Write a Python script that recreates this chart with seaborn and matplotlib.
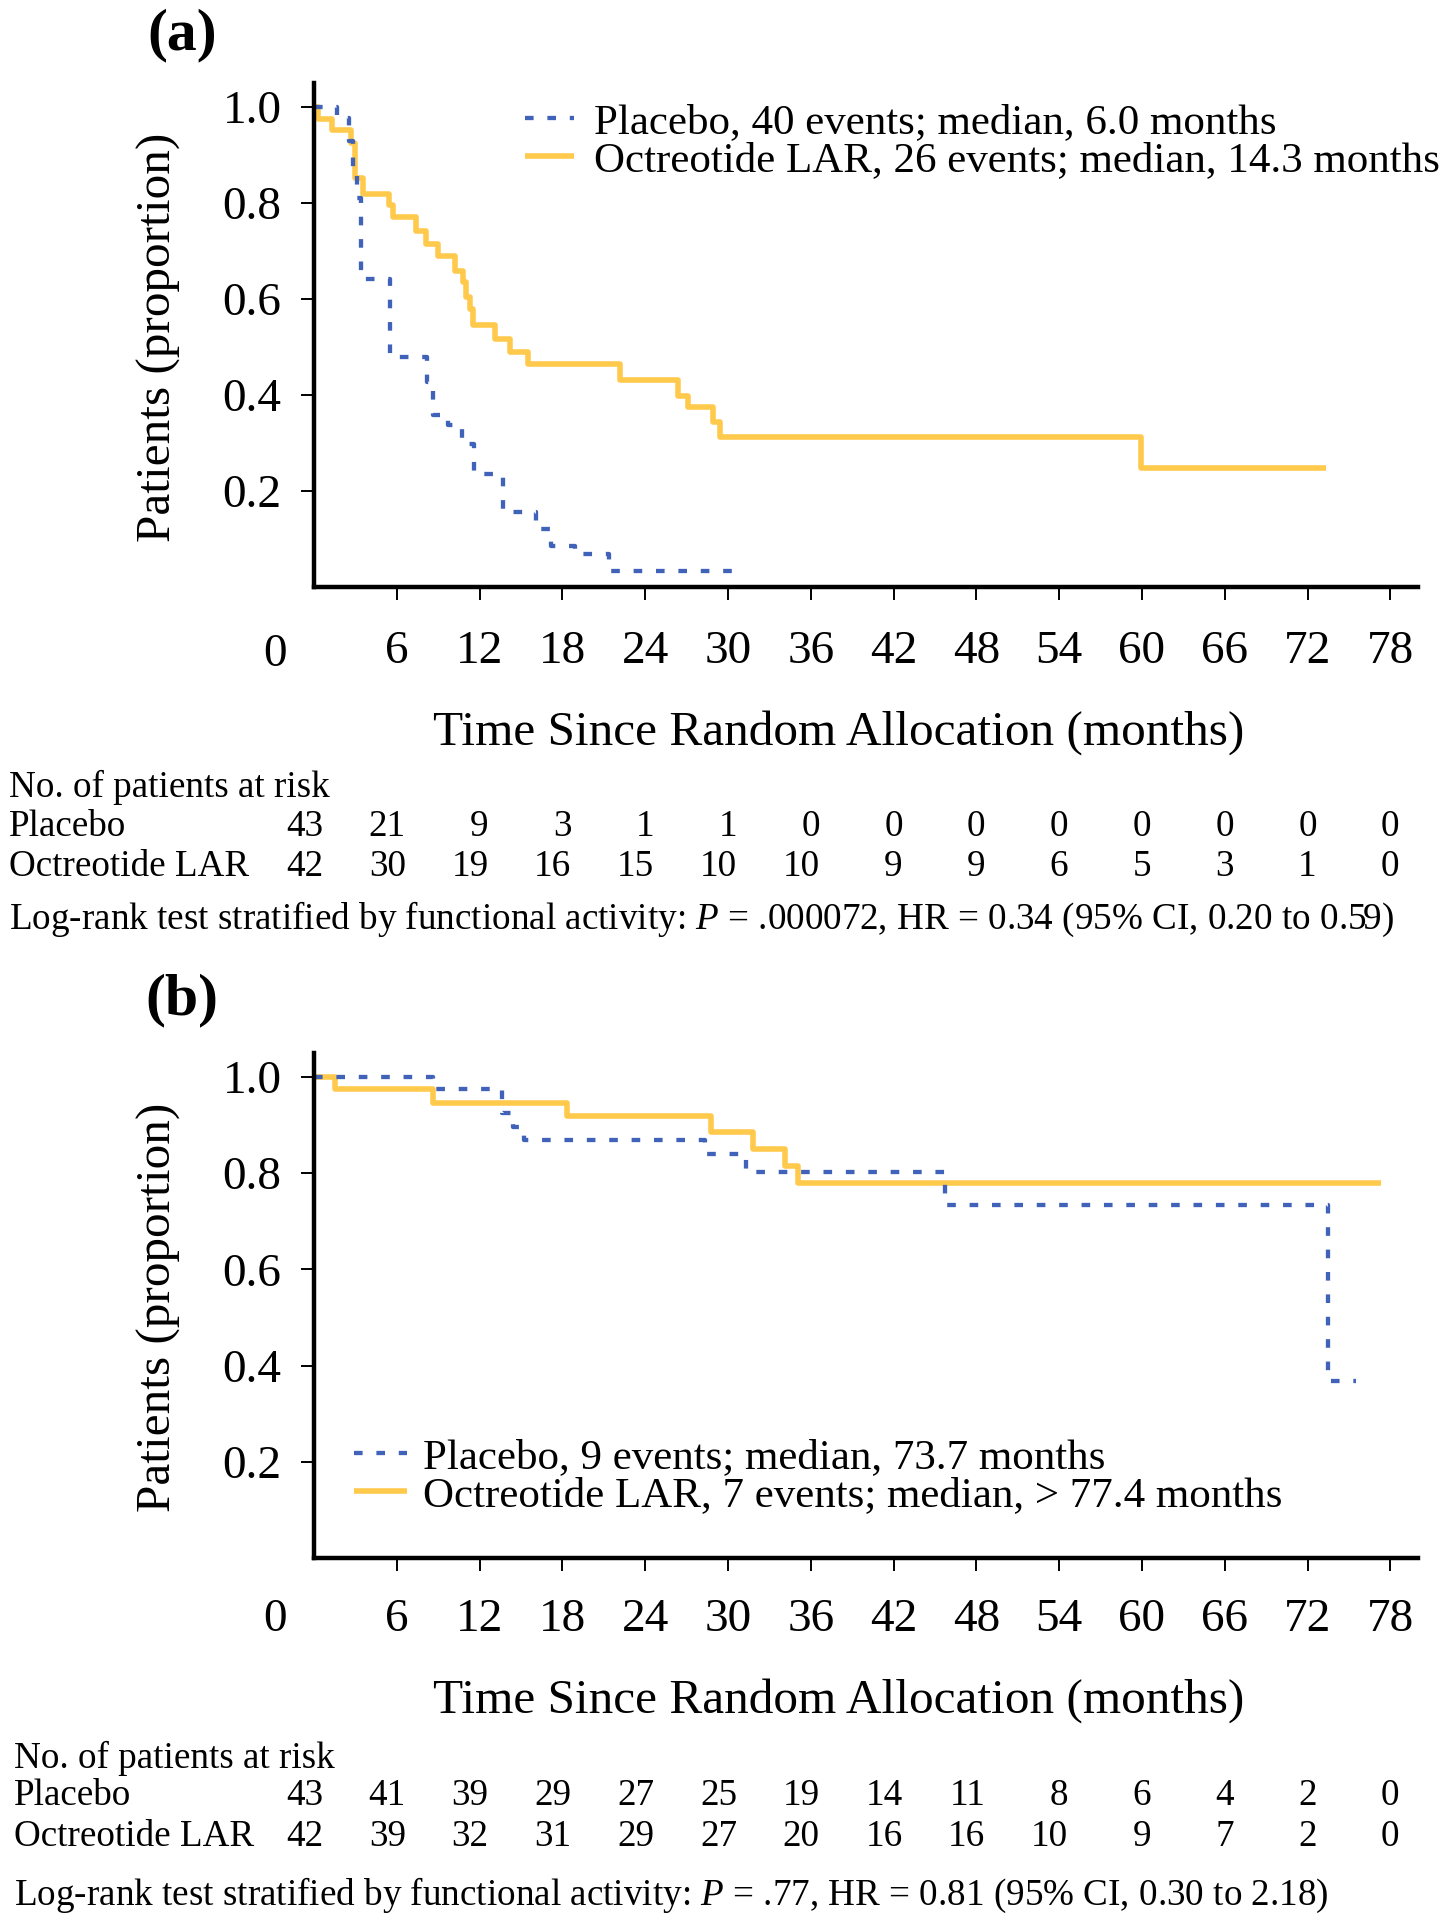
import matplotlib
matplotlib.use("Agg")
import matplotlib.pyplot as plt
import matplotlib.transforms as mtransforms
import seaborn as sns
import pandas as pd

# ---------------- data ----------------
# Panel (a) Kaplan-Meier step points (time in months, survival proportion)
a_placebo_t = [0, 1.7, 2.5, 2.8, 3.1, 3.4, 5.5, 8.2, 8.6, 9.7, 10.7, 11.6, 13.7, 16.1, 17.2, 18.9, 21.4, 30.8]
a_placebo_s = [1.0, 0.977, 0.93, 0.86, 0.81, 0.642, 0.48, 0.428, 0.359, 0.338, 0.298, 0.235, 0.157, 0.121, 0.086, 0.068, 0.033, 0.033]
a_octreo_t = [0, 0.3, 1.3, 2.7, 3.0, 3.55, 5.4, 5.7, 7.4, 8.1, 9.0, 10.2, 10.8, 11.0, 11.3, 11.5, 13.1, 14.2, 15.5,
              22.2, 26.4, 27.1, 28.9, 29.4, 59.9, 73.3]
a_octreo_s = [1.0, 0.976, 0.952, 0.925, 0.852, 0.818, 0.795, 0.77, 0.742, 0.714, 0.69, 0.659, 0.635, 0.604, 0.58, 0.545,
              0.516, 0.49, 0.464, 0.431, 0.398, 0.374, 0.343, 0.312, 0.248, 0.248]

# Panel (b)
b_placebo_t = [0, 8.6, 13.6, 14.4, 15.2, 28.3, 31.3, 45.7, 73.5, 75.5]
b_placebo_s = [1.0, 0.975, 0.925, 0.897, 0.87, 0.839, 0.802, 0.733, 0.368, 0.368]
b_octreo_t = [0, 1.5, 8.6, 18.3, 28.8, 31.8, 34.1, 35.1, 77.3]
b_octreo_s = [1.0, 0.975, 0.947, 0.918, 0.885, 0.851, 0.815, 0.78, 0.78]

risk_times = [0, 6, 12, 18, 24, 30, 36, 42, 48, 54, 60, 66, 72, 78]
a_risk_placebo = [43, 21, 9, 3, 1, 1, 0, 0, 0, 0, 0, 0, 0, 0]
a_risk_octreo = [42, 30, 19, 16, 15, 10, 10, 9, 9, 6, 5, 3, 1, 0]
b_risk_placebo = [43, 41, 39, 29, 27, 25, 19, 14, 11, 8, 6, 4, 2, 0]
b_risk_octreo = [42, 39, 32, 31, 29, 27, 20, 16, 16, 10, 9, 7, 2, 0]

a_legend = ["Placebo, 40 events; median, 6.0 months", "Octreotide LAR, 26 events; median, 14.3 months"]
b_legend = ["Placebo, 9 events; median, 73.7 months", "Octreotide LAR, 7 events; median, > 77.4 months"]
a_stats = "Log-rank test stratified by functional activity: $P$ = .000072, HR = 0.34 (95% CI, 0.20 to 0.59)"
b_stats = "Log-rank test stratified by functional activity: $P$ = .77, HR = 0.81 (95% CI, 0.30 to 2.18)"

x_ticks = [6, 12, 18, 24, 30, 36, 42, 48, 54, 60, 66, 72, 78]
y_ticks = [0.2, 0.4, 0.6, 0.8, 1.0]

BLUE = "#4062B8"
YELLOW = "#FFC94C"

# ---------------- style ----------------
sns.set_theme(style="ticks")
plt.rcParams["font.family"] = ["Liberation Serif", "DejaVu Serif"]
plt.rcParams["mathtext.fontset"] = "custom"
plt.rcParams["mathtext.rm"] = "Liberation Serif"
plt.rcParams["mathtext.it"] = "Liberation Serif:italic"
plt.rcParams["text.color"] = "black"
plt.rcParams["axes.edgecolor"] = "black"
plt.rcParams["xtick.color"] = "black"
plt.rcParams["ytick.color"] = "black"

W, H = 1454, 1920
fig = plt.figure(figsize=(W / 100, H / 100), dpi=100)


def fx(px):
    return px / W


def fy(py):
    return 1 - py / H


X0, X1 = 314, 1418


def make_panel(top, bottom, pl_t, pl_s, oc_t, oc_s, legend_labels, leg_left, leg_top,
               handle_len, text_pad, label, label_y, rows, risk_pl, risk_oc, stats, row_x, xpad):
    ax = fig.add_axes([fx(X0), fy(bottom), fx(X1) - fx(X0), (bottom - top) / H])
    df_oc = pd.DataFrame({"t": oc_t, "s": oc_s})
    df_pl = pd.DataFrame({"t": pl_t, "s": pl_s})
    sns.lineplot(data=df_oc, x="t", y="s", ax=ax, color=YELLOW, lw=4.0, drawstyle="steps-post",
                 estimator=None, sort=False, solid_capstyle="butt")
    sns.lineplot(data=df_pl, x="t", y="s", ax=ax, color=BLUE, lw=3.1, drawstyle="steps-post",
                 estimator=None, sort=False, linestyle=(0, (2.0, 3.2)), dash_capstyle="butt")
    ax.set_xlim(0, 80)
    ax.set_ylim(0, 1.05)
    ax.set_xticks(x_ticks)
    ax.set_xticklabels([str(v) for v in x_ticks])
    ax.set_yticks(y_ticks)
    ax.set_yticklabels(["%.1f" % v for v in y_ticks])
    ax.set_xlabel("")
    ax.set_ylabel("")
    for s in ["top", "right"]:
        ax.spines[s].set_visible(False)
    for s in ["left", "bottom"]:
        ax.spines[s].set_linewidth(3.2)
    ax.tick_params(axis="both", direction="out", length=9.4, width=1.4, labelsize=34, colors="black")
    ax.tick_params(axis="x", pad=xpad)
    ax.tick_params(axis="y", pad=14)

    lines = ax.get_lines()
    handles = [lines[1], lines[0]]
    fs_leg = 31
    em = fs_leg * 100 / 72
    ax.legend(handles, legend_labels, loc="upper left", bbox_to_anchor=(fx(leg_left), fy(leg_top)),
              bbox_transform=fig.transFigure, frameon=False, fontsize=fs_leg, borderpad=0,
              borderaxespad=0, handlelength=handle_len / em, handletextpad=text_pad / em,
              labelspacing=-0.03)

    # "0" origin label
    fig.text(fx(275), fy(rows[0]), "0", ha="center", va="center", fontsize=34)
    # axis titles
    fig.text(fx(839), fy(rows[1]), "Time Since Random Allocation (months)", ha="center", va="center",
             fontsize=35.5)
    fig.text(fx(159), fy((top + bottom) / 2 + 2), "Patients (proportion)", rotation=90, ha="center",
             va="center", fontsize=35.5)
    fig.text(fx(182), fy(label_y), label, ha="center", va="center", fontsize=43, fontweight="bold")

    # risk table
    fs_t = 26.7
    fig.text(fx(row_x), fy(rows[2]), "No. of patients at risk", ha="left", va="center", fontsize=fs_t)
    fig.text(fx(row_x), fy(rows[3]), "Placebo", ha="left", va="center", fontsize=fs_t)
    fig.text(fx(row_x), fy(rows[4]), "Octreotide LAR", ha="left", va="center", fontsize=fs_t)
    trans = mtransforms.blended_transform_factory(ax.transData, fig.transFigure)
    trans = trans + mtransforms.ScaledTranslation(6.5 / 72, 0, fig.dpi_scale_trans)
    for t, n in zip(risk_times, risk_pl):
        ax.text(t, fy(rows[3]), str(n), transform=trans, ha="right", va="center", fontsize=fs_t,
                clip_on=False)
    for t, n in zip(risk_times, risk_oc):
        ax.text(t, fy(rows[4]), str(n), transform=trans, ha="right", va="center", fontsize=fs_t,
                clip_on=False)
    fig.text(fx(row_x), fy(rows[5]), stats, ha="left", va="center", fontsize=fs_t)
    return ax


make_panel(83, 587, a_placebo_t, a_placebo_s, a_octreo_t, a_octreo_s, a_legend, 525, 103, 49, 20,
           "(a)", 35, [655, 733, 787, 827, 867, 919], a_risk_placebo, a_risk_octreo, a_stats, 9, 22)
make_panel(1053, 1558, b_placebo_t, b_placebo_s, b_octreo_t, b_octreo_s, b_legend, 354, 1438, 53, 16,
           "(b)", 1000, [1620, 1701, 1758, 1796, 1837, 1895], b_risk_placebo, b_risk_octreo, b_stats, 14, 19.5)

fig.savefig("out.png", dpi=100)
